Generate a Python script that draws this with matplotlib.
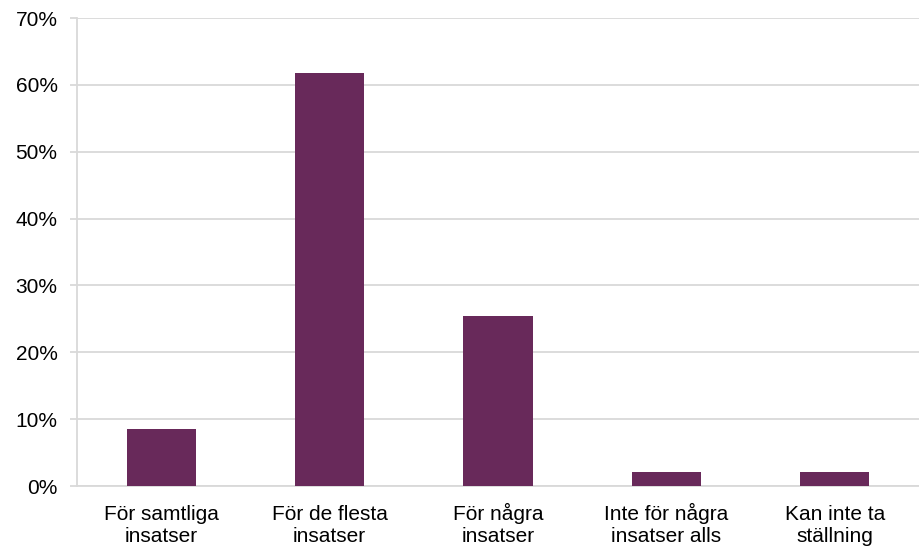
import matplotlib.pyplot as plt
from matplotlib.ticker import MultipleLocator, FuncFormatter

plt.rcParams['font.family'] = ['Liberation Sans', 'DejaVu Sans']

categories = ['För samtliga\ninsatser', 'För de flesta\ninsatser', 'För några\ninsatser',
              'Inte för några\ninsatser alls', 'Kan inte ta\nställning']
values = [8.5, 61.7, 25.5, 2.1, 2.1]

bar_color = '#68295A'
grid_color = '#D9D9D9'

fig = plt.figure(figsize=(9.19, 5.47), dpi=100)
ax = fig.add_axes([77 / 919, 61 / 547, 842 / 919, 468 / 547])

ax.bar(range(len(categories)), values, width=0.41, color=bar_color, zorder=3)

ax.set_xlim(-0.5, len(categories) - 0.5)
ax.set_ylim(0, 70)
ax.yaxis.set_major_locator(MultipleLocator(10))
ax.yaxis.set_major_formatter(FuncFormatter(lambda v, p: f'{v:.0f}%'))
ax.set_xticks(range(len(categories)))
ax.set_xticklabels(categories, linespacing=1.2)
# baseline-align so the "å" in some labels doesn't push them down
for lab in ax.get_xticklabels():
    lab.set_va('baseline')

ax.grid(axis='y', color=grid_color, linewidth=1.3, zorder=0)
for s in ['top', 'right']:
    ax.spines[s].set_visible(False)
for s in ['left', 'bottom']:
    ax.spines[s].set_color(grid_color)
    ax.spines[s].set_linewidth(1.3)

ax.tick_params(axis='y', length=5, color=grid_color, width=1.3, pad=9, labelsize=15, labelcolor='#000000')
ax.tick_params(axis='x', length=0, pad=40, labelsize=15, labelcolor='#000000')

fig.savefig('out.png', dpi=100)
